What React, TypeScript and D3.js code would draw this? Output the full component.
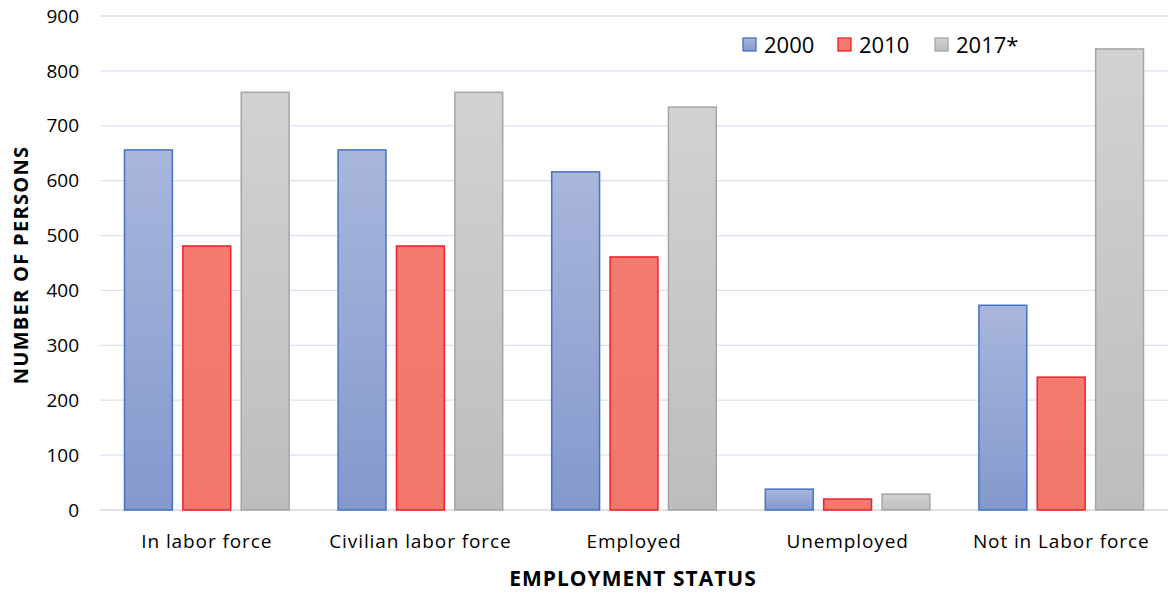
import React from "react";
import * as d3 from "d3";

const categories = ["In labor force", "Civilian labor force", "Employed", "Unemployed", "Not in Labor force"];
const seriesNames = ["2000", "2010", "2017*"];
const values2000 = [656, 656, 616, 38, 373];
const values2010 = [481, 481, 461, 20, 242];
const values2017 = [761, 761, 734, 29, 840];
const yTicks = [0, 100, 200, 300, 400, 500, 600, 700, 800, 900];

const W = 1168;
const H = 596;
const FONT = "'Open Sans', Lato, sans-serif";

const styles = [
  { id: "g2000", top: "#a9b6dc", bottom: "#8399cd", stroke: "#4472c4" },
  { id: "g2010", top: "#f47b71", bottom: "#f2766c", stroke: "#ee2129" },
  { id: "g2017", top: "#d2d2d2", bottom: "#bdbdbd", stroke: "#a5a5a5" },
];

export default function App() {
  const series = [values2000, values2010, values2017];
  const x = d3.scaleBand<string>().domain(categories).range([100, 1168]).paddingInner(0).paddingOuter(0);
  const inner = d3.scaleBand<string>().domain(seriesNames).range([0, x.bandwidth()]).paddingInner(0.18).paddingOuter(0.42);
  const y = d3.scaleLinear().domain([0, 900]).range([510, 16]);

  return (
    <svg width={W} height={H} style={{ display: "block", position: "absolute", left: 0, top: 0, background: "#fff" }}>
      <defs>
        {styles.map((s) => (
          <linearGradient key={s.id} id={s.id} x1="0" y1="0" x2="0" y2="1">
            <stop offset="0%" stopColor={s.top} />
            <stop offset="100%" stopColor={s.bottom} />
          </linearGradient>
        ))}
      </defs>
      {yTicks.map((t) => (
        <g key={t}>
          <line x1={100} x2={1168} y1={y(t)} y2={y(t)} stroke={t === 0 ? "#d9d9d9" : "#dae2f2"} strokeWidth={t === 0 ? 1.5 : 1.3} />
          <text x={79} y={y(t)} dy="0.35em" textAnchor="end" fontFamily={FONT} fontSize={19} fill="#000">
            {t}
          </text>
        </g>
      ))}
      {categories.map((c, ci) => (
        <g key={c} transform={`translate(${x(c)},0)`}>
          {seriesNames.map((s, si) => {
            const v = series[si][ci];
            const st = styles[si];
            return (
              <rect
                key={s}
                x={inner(s)}
                y={y(v)}
                width={inner.bandwidth()}
                height={y(0) - y(v)}
                fill={`url(#${st.id})`}
                stroke={st.stroke}
                strokeWidth={1.5}
              />
            );
          })}
          <text x={x.bandwidth() / 2} y={541} dy="0.35em" textAnchor="middle" fontFamily={FONT} fontSize={19} letterSpacing={0.9} fill="#000">
            {c}
          </text>
        </g>
      ))}
      <text
        transform={`translate(21,265) rotate(-90)`}
        textAnchor="middle"
        dy="0.35em"
        fontFamily={FONT}
        fontWeight={700}
        fontSize={20}
        letterSpacing={1.3}
        fill="#000"
      >
        NUMBER OF PERSONS
      </text>
      <text x={633} y={579} dy="0.35em" textAnchor="middle" fontFamily={FONT} fontWeight={700} fontSize={21} letterSpacing={1} fill="#000">
        EMPLOYMENT STATUS
      </text>
      {seriesNames.map((s, i) => {
        const lx = [743, 838, 935][i];
        const st = styles[i];
        return (
          <g key={s}>
            <rect x={lx} y={38} width={13} height={13} fill={`url(#${st.id})`} stroke={st.stroke} strokeWidth={1.3} />
            <text x={lx + 21} y={45} dy="0.36em" fontFamily={FONT} fontSize={22} fill="#000">
              {s}
            </text>
          </g>
        );
      })}
    </svg>
  );
}
